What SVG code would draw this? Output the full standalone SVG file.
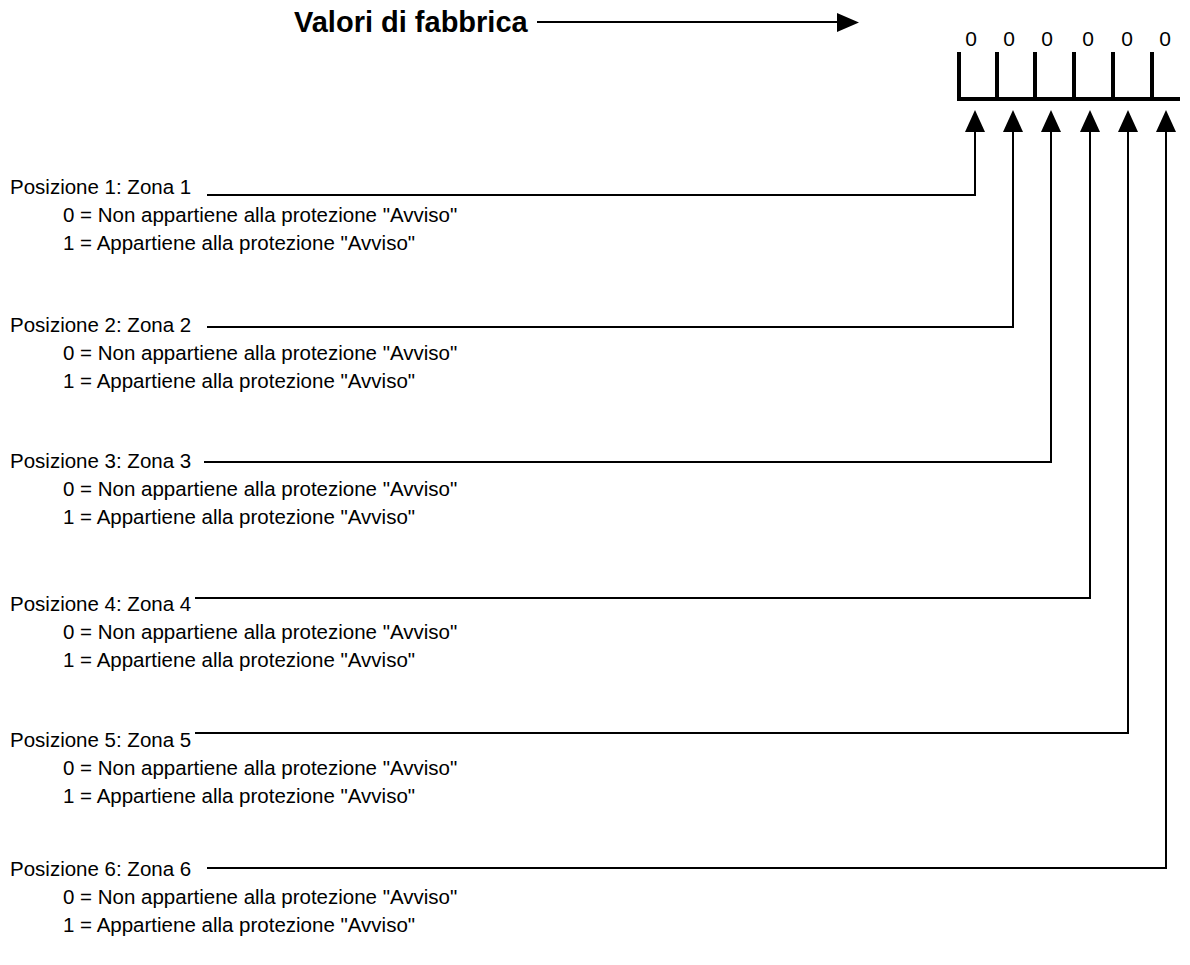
<svg xmlns="http://www.w3.org/2000/svg" width="1190" height="965" viewBox="0 0 1190 965">
<style>
text{font-family:"Liberation Sans",Arial,sans-serif;fill:#000}
.t{font-size:20.5px}
.title{font-size:29px;font-weight:bold}
.d{font-size:21px}
.ln{stroke:#000;stroke-width:2;fill:none}
.bx{stroke:#000;stroke-width:4;fill:none}
.ah{fill:#000}
</style>
<defs>
<path id="up" class="ah" d="M-10,22 L0,0 L10,22 Z"/>
</defs>
<rect width="1190" height="965" fill="#fff"/>
<g id="title">
<text class="title" x="294" y="32">Valori di fabbrica</text>
</g>
<g id="register">
<path class="bx" d="M957,99 H1180 M959,52 V99 M997,52 V99 M1035,52 V99 M1074,52 V99 M1113,52 V99 M1152,52 V99"/>
<text class="d" x="971" y="46" text-anchor="middle">0</text>
<text class="d" x="1009" y="46" text-anchor="middle">0</text>
<text class="d" x="1047" y="46" text-anchor="middle">0</text>
<text class="d" x="1088" y="46" text-anchor="middle">0</text>
<text class="d" x="1127" y="46" text-anchor="middle">0</text>
<text class="d" x="1165" y="46" text-anchor="middle">0</text>
</g>
<g id="pos1">
<text class="t" x="10" y="194">Posizione 1: Zona 1</text>
<text class="t" x="63" y="222">0 = Non appartiene alla protezione "Avviso"</text>
<text class="t" x="63" y="250">1 = Appartiene alla protezione "Avviso"</text>
</g>
<g id="pos2">
<text class="t" x="10" y="332">Posizione 2: Zona 2</text>
<text class="t" x="63" y="360">0 = Non appartiene alla protezione "Avviso"</text>
<text class="t" x="63" y="388">1 = Appartiene alla protezione "Avviso"</text>
</g>
<g id="pos3">
<text class="t" x="10" y="468">Posizione 3: Zona 3</text>
<text class="t" x="63" y="496">0 = Non appartiene alla protezione "Avviso"</text>
<text class="t" x="63" y="524">1 = Appartiene alla protezione "Avviso"</text>
</g>
<g id="pos4">
<text class="t" x="10" y="611">Posizione 4: Zona 4</text>
<text class="t" x="63" y="639">0 = Non appartiene alla protezione "Avviso"</text>
<text class="t" x="63" y="667">1 = Appartiene alla protezione "Avviso"</text>
</g>
<g id="pos5">
<text class="t" x="10" y="747">Posizione 5: Zona 5</text>
<text class="t" x="63" y="775">0 = Non appartiene alla protezione "Avviso"</text>
<text class="t" x="63" y="803">1 = Appartiene alla protezione "Avviso"</text>
</g>
<g id="pos6">
<text class="t" x="10" y="876">Posizione 6: Zona 6</text>
<text class="t" x="63" y="904">0 = Non appartiene alla protezione "Avviso"</text>
<text class="t" x="63" y="932">1 = Appartiene alla protezione "Avviso"</text>
</g>
<g id="connectors">
<path class="ln" d="M537,22 H840"/>
<path class="ah" d="M837,13 L859,22.5 L837,32 Z"/>
<path class="ln" d="M207,195 H975 V130"/>
<path class="ln" d="M207,327 H1013 V130"/>
<path class="ln" d="M204,462 H1051 V130"/>
<path class="ln" d="M195,598 H1090 V130"/>
<path class="ln" d="M195,733 H1128 V130"/>
<path class="ln" d="M207,868 H1166 V130"/>
<use href="#up" x="975" y="110"/>
<use href="#up" x="1013" y="110"/>
<use href="#up" x="1051" y="110"/>
<use href="#up" x="1090" y="110"/>
<use href="#up" x="1128" y="110"/>
<use href="#up" x="1166" y="110"/>
</g>
</svg>
